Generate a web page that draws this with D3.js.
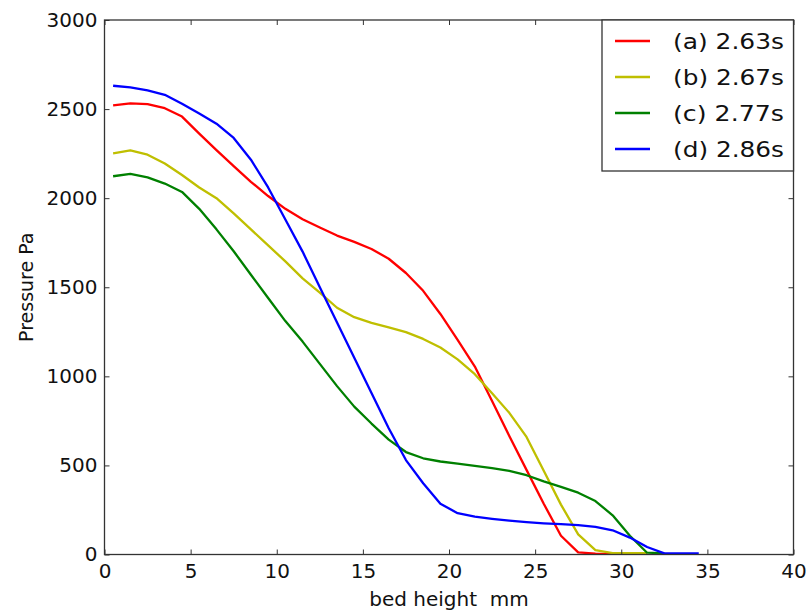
<!DOCTYPE html>
<html lang="en">
<head>
<meta charset="UTF-8">
<title>Pressure vs bed height</title>
<script src="https://d3js.org/d3.v7.min.js"></script>
<style>
    body { margin: 0; background: #fff; }
    text { font-family: "DejaVu Sans", sans-serif; fill: #111; }
</style>
</head>
<body>
<script>
    // bed height (mm), one sample every 1 mm
    var bedHeight = [0.5, 1.5, 2.5, 3.5, 4.5, 5.5, 6.5, 7.5, 8.5, 9.5, 10.5, 11.5, 12.5, 13.5, 14.5, 15.5,
        16.5, 17.5, 18.5, 19.5, 20.5, 21.5, 22.5, 23.5, 24.5, 25.5, 26.5, 27.5, 28.5, 29.5, 30.5, 31.5,
        32.5, 33.5, 34.5];

    // pressure (Pa) for each time step
    var pA = [2521, 2532, 2528, 2505, 2458, 2362, 2270, 2180, 2092, 2012, 1940, 1882, 1835, 1790, 1755, 1715,
        1660, 1580, 1480, 1350, 1205, 1055, 862, 665, 475, 285, 105, 12, 5, 4, 4, 4];
    var pB = [2252, 2268, 2244, 2195, 2130, 2060, 2000, 1915, 1825, 1735, 1645, 1550, 1470, 1385, 1332, 1300,
        1275, 1248, 1210, 1162, 1095, 1012, 905, 795, 660, 470, 280, 113, 25, 8, 8, 8];
    var pC = [2123, 2136, 2117, 2082, 2035, 1940, 1825, 1702, 1570, 1440, 1310, 1195, 1070, 945, 830, 735,
        645, 575, 540, 522, 510, 498, 485, 470, 445, 410, 380, 347, 300, 220, 105, 10, 6];
    var pD = [2631, 2622, 2605, 2580, 2530, 2475, 2418, 2338, 2216, 2060, 1880, 1700, 1500, 1302, 1104, 906,
        709, 530, 400, 285, 232, 212, 200, 190, 182, 175, 170, 165, 155, 136, 95, 42, 6, 6, 6];

    var labels = ["(a) 2.63s", "(b) 2.67s", "(c) 2.77s", "(d) 2.86s"];
    var colors = ["#ff0000", "#bfbf00", "#008000", "#0000ff"];
    var xTicks = [0, 5, 10, 15, 20, 25, 30, 35, 40];
    var yTicks = [0, 500, 1000, 1500, 2000, 2500, 3000];

    var series = [pA, pB, pC, pD].map(function(vals, i) {
        return {
            name: labels[i],
            color: colors[i],
            points: vals.map(function(v, j) { return [bedHeight[j], v]; })
        };
    });

    var width = 808, height = 612;
    // plot box (window.top is reserved, so prefixed names)
    var boxL = 104.5, boxR = 793.5, boxT = 20, boxB = 554.5;

    var svg = d3.select("body").append("svg")
        .attr("width", width)
        .attr("height", height);

    var x = d3.scaleLinear().domain([0, 40]).range([boxL, boxR]);
    var y = d3.scaleLinear().domain([0, 3000]).range([boxB, boxT]);

    // lines
    var line = d3.line()
        .x(function(d) { return x(d[0]); })
        .y(function(d) { return y(d[1]); });

    svg.append("g").selectAll("path")
        .data(series)
        .enter()
        .append("path")
        .attr("d", function(d) { return line(d.points); })
        .attr("fill", "none")
        .attr("stroke", function(d) { return d.color; })
        .attr("stroke-width", 2.3)
        .attr("stroke-linejoin", "round");

    // axes, ticks pointing inward on all sides
    var fmt = d3.format("d");
    var gx = svg.append("g")
        .attr("transform", "translate(0," + boxB + ")")
        .call(d3.axisBottom(x).tickValues(xTicks).tickFormat(fmt).tickSizeInner(-5).tickSizeOuter(0).tickPadding(9));
    var gxTop = svg.append("g")
        .attr("transform", "translate(0," + boxT + ")")
        .call(d3.axisTop(x).tickValues(xTicks).tickSizeInner(-5).tickSizeOuter(0).tickFormat(""));
    var gy = svg.append("g")
        .attr("transform", "translate(" + boxL + ",0)")
        .call(d3.axisLeft(y).tickValues(yTicks).tickFormat(fmt).tickSizeInner(-5).tickSizeOuter(0).tickPadding(7));
    var gyRight = svg.append("g")
        .attr("transform", "translate(" + boxR + ",0)")
        .call(d3.axisRight(y).tickValues(yTicks).tickSizeInner(-5).tickSizeOuter(0).tickFormat(""));

    [gx, gxTop, gy, gyRight].forEach(function(g) {
        g.select(".domain").remove();
        g.selectAll(".tick line").attr("stroke", "#333").attr("stroke-width", 1);
        g.selectAll(".tick text")
            .style("font-family", "DejaVu Sans, sans-serif")
            .style("font-size", "20px")
            .attr("fill", "#111");
    });

    // frame
    svg.append("rect")
        .attr("x", boxL)
        .attr("y", boxT)
        .attr("width", boxR - boxL)
        .attr("height", boxB - boxT)
        .attr("fill", "none")
        .attr("stroke", "#333")
        .attr("stroke-width", 1.3);

    // axis labels
    svg.append("text")
        .attr("x", (boxL + boxR) / 2)
        .attr("y", 606)
        .attr("text-anchor", "middle")
        .style("font-size", "20px")
        .text("bed height\u00a0\u00a0mm");

    svg.append("text")
        .attr("transform", "translate(33," + ((boxT + boxB) / 2) + ") rotate(-90)")
        .attr("text-anchor", "middle")
        .style("font-size", "19px")
        .text("Pressure Pa");

    // legend
    var legend = svg.append("g");
    legend.append("rect")
        .attr("x", 602)
        .attr("y", boxT)
        .attr("width", boxR - 602)
        .attr("height", 151)
        .attr("fill", "#fff")
        .attr("stroke", "#333")
        .attr("stroke-width", 1.3);

    var rows = legend.selectAll("g.row")
        .data(series)
        .enter()
        .append("g")
        .attr("class", "row")
        .attr("transform", function(d, i) { return "translate(0," + (41 + i * 36) + ")"; });

    rows.append("line")
        .attr("x1", 615)
        .attr("x2", 650)
        .attr("stroke", function(d) { return d.color; })
        .attr("stroke-width", 2.3);

    rows.append("text")
        .attr("x", 673)
        .attr("y", 7.5)
        .attr("textLength", 111)
        .attr("lengthAdjust", "spacingAndGlyphs")
        .style("font-size", "21px")
        .text(function(d) { return d.name; });
</script>
</body>
</html>
